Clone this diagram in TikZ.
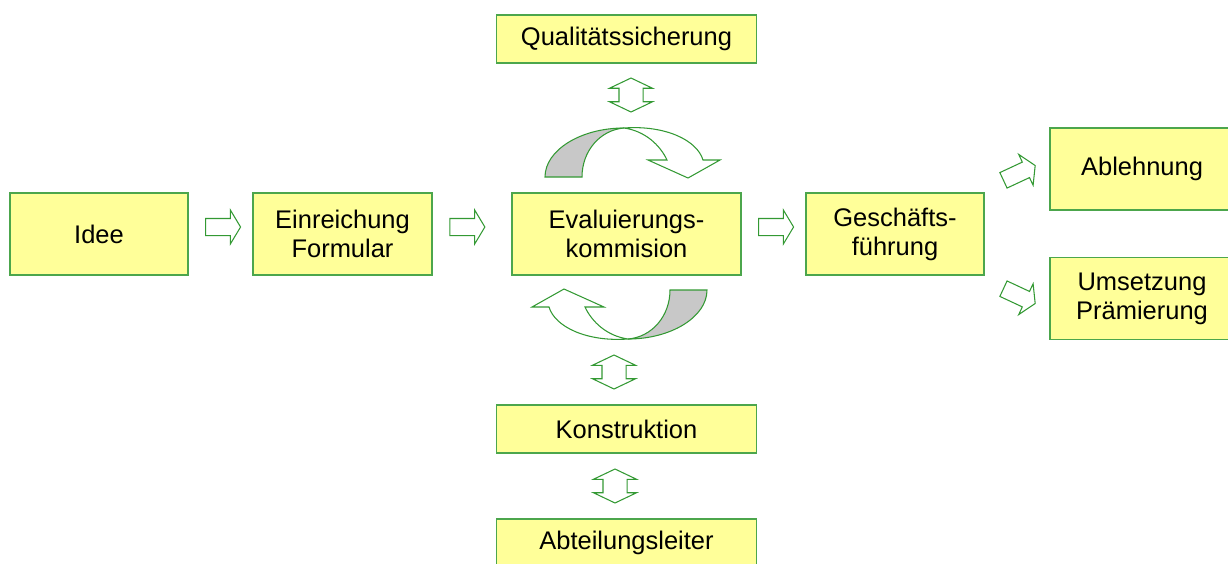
\documentclass[tikz,border=0pt]{standalone}
\usepackage{fontspec}
\setmainfont{Liberation Sans}
\usetikzlibrary{positioning, shapes.arrows, calc}
\usepackage{xcolor}
\definecolor{boxfill}{HTML}{FFFF99}
\definecolor{boxline}{HTML}{4CA64C}
\definecolor{arrline}{HTML}{339933}
\definecolor{backgray}{HTML}{C8C8C8}

\begin{document}
\begin{tikzpicture}[x=0.2mm, y=-0.2mm]
\tikzset{
box/.style={draw=boxline, fill=boxfill, line width=0.8pt, outer sep=0pt, minimum height=16.4mm, align=center, font=\fontsize{14.5}{16.5}\selectfont}, % yellow process boxes
wide/.style={box, minimum width=52mm, minimum height=9.6mm}, % flat boxes above and below
fwd/.style={single arrow, draw=arrline, fill=white, line width=0.6pt, inner xsep=0pt, inner ysep=1.6mm, minimum height=7mm, single arrow head extend=1.7mm, single arrow tip angle=118}, % hollow block arrow
twin/.style={double arrow, draw=arrline, fill=white, line width=0.6pt, inner xsep=0pt, inner ysep=2.3mm, minimum height=6.8mm, double arrow head extend=1.9mm, double arrow tip angle=129, rotate=90}, % up and down
band/.style={draw=arrline, line width=0.6pt}, % curved arrows
}
	\useasboundingbox (0,0) rectangle (1228,563);
	\clip (0,0) rectangle (1228,563);

	\node[box, minimum width=35.6mm] (idee) at (99,234) {Idee};
	\node[box, minimum width=35.8mm, right=13mm of idee] (einr) {Einreichung\\Formular};
	\node[box, minimum width=45.8mm, right=16mm of einr] (eval) {Evaluierungs-\\kommision};
	\node[box, minimum width=35.6mm, right=13mm of eval] (gf) {Geschäfts-\\führung};
	\node[box, minimum width=36.8mm, right=13.2mm of gf, yshift=13mm] (abl) {Ablehnung};
	\node[box, minimum width=36.8mm, right=13.2mm of gf, yshift=-12.9mm] (ums) {Umsetzung\\Prämierung};
	\node[wide, above=26mm of eval] (qs) {Qualitätssicherung};
	\node[wide, below=26mm of eval] (kon) {Konstruktion};
	\node[wide, below=13.2mm of kon] (abt) {Abteilungsleiter};

	\node[fwd, yshift=1.4mm] (a1) at ($(idee.east)!.5!(einr.west)$) {};
	\node[fwd, yshift=1.4mm] (a2) at ($(einr.east)!.41!(eval.west)$) {};
	\node[fwd, yshift=1.4mm] (a3) at ($(eval.east)!.5!(gf.west)$) {};
	\node[fwd, rotate=25] (a4) at (1017,174) {};
	\node[fwd, rotate=-25] (a5) at (1017,295) {};

	\node[twin] (d1) at (631,95) {};
	\node[twin] (d2) at (614,372) {};
	\node[twin] (d3) at (615,486) {};

	% the two turning arrows round the evaluation box
	\foreach \r in {0,180}{
	\begin{scope}[rotate around={\r:(626,233.5)}]
		\filldraw[band, fill=backgray] (545,177) .. controls (545,150) and (581,128) .. (624,128)
			.. controls (600,130) and (582,151) .. (582,177) -- cycle;
		\filldraw[band, fill=white] (624,128) .. controls (665,125) and (697,140) .. (703,160)
			-- (720,160) -- (688,178) -- (648,160) -- (667,160)
			.. controls (660,145) and (645,131) .. (624,128) -- cycle;
	\end{scope}
	}
\end{tikzpicture}
\end{document}
